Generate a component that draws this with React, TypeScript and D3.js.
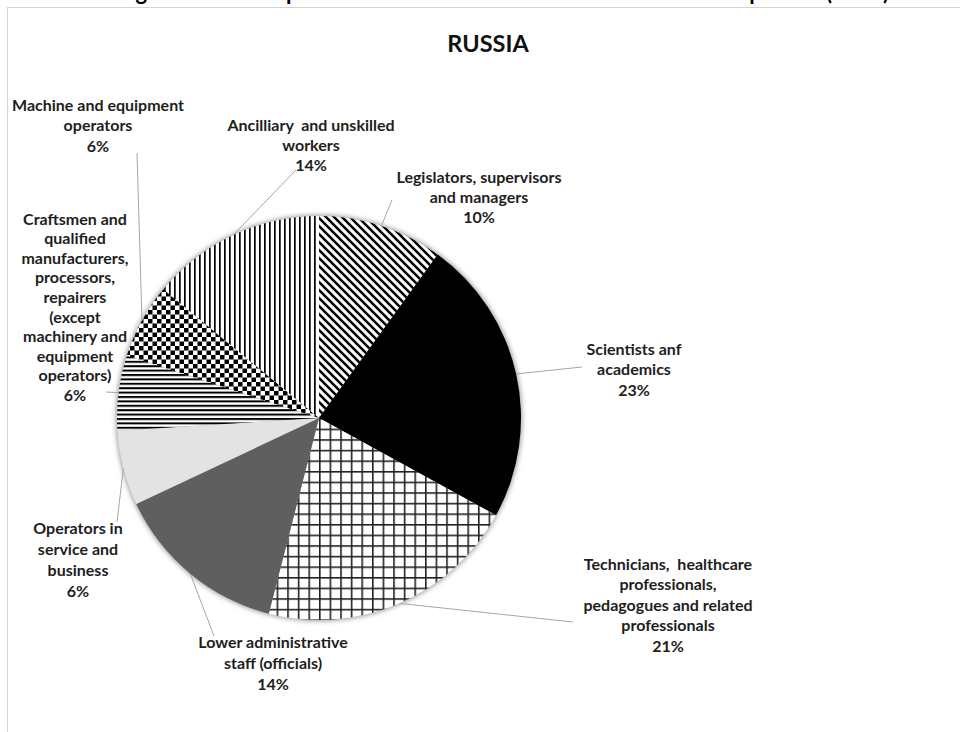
import React from "react";
import * as d3 from "d3";

// ---------- data ----------
const chartTitle = "RUSSIA";
const categories = [
  "Legislators, supervisors\nand managers",
  "Scientists anf\nacademics",
  "Technicians,  healthcare\nprofessionals,\npedagogues and related\nprofessionals",
  "Lower administrative\nstaff (officials)",
  "Operators in\nservice and\nbusiness",
  "Craftsmen and\nqualified\nmanufacturers,\nprocessors,\nrepairers\n(except\nmachinery and\nequipment\noperators)",
  "Machine and equipment\noperators",
  "Ancilliary  and unskilled\nworkers",
];
const values = [10, 23, 21, 14, 6, 6, 6, 14];
const fills = ["url(#pDiag)", "#000000", "url(#pGrid)", "#5f5f5f", "#e3e3e3", "url(#pHoriz)", "url(#pCheck)", "url(#pVert)"];

// ---------- layout (positions only) ----------
const W = 960;
const H = 732;
const cx = 319;
const cy = 418;
const R = 202;
const labelLayout = [
  { x: 479, y: 176, lh: 20.2, ax: 392, ay: 200 },
  { x: 634, y: 348, lh: 20.5, ax: 582, ay: 367 },
  { x: 668, y: 563, lh: 20.6, ax: 573, ay: 622 },
  { x: 273, y: 641, lh: 21, ax: 214, ay: 636 },
  { x: 78, y: 527, lh: 21, ax: 117, ay: 522 },
  { x: 75, y: 218, lh: 19.6, ax: 106, ay: 392 },
  { x: 98, y: 104, lh: 20.5, ax: 137, ay: 153 },
  { x: 311, y: 124, lh: 20, ax: 296, ay: 170 },
];

const FONT = "Lato, 'Open Sans', sans-serif";

export default function App() {
  const pie = d3.pie<number>().sort(null).value((d) => d)(values);
  const arc = d3.arc<d3.PieArcDatum<number>>().innerRadius(0).outerRadius(R);

  return (
    <svg
      width={W}
      height={H}
      viewBox={`0 0 ${W} ${H}`}
      style={{ position: "absolute", left: 0, top: 0, background: "#fff" }}
      fontFamily={FONT}
    >
      <defs>
        <pattern id="pDiag" width={8} height={8} patternUnits="userSpaceOnUse">
          <rect width={8} height={8} fill="#fff" />
          <path d="M-4,4 L4,12 M0,0 L8,8 M4,-4 L12,4" stroke="#000" strokeWidth={2.6} />
        </pattern>
        <pattern id="pVert" width={5} height={5} patternUnits="userSpaceOnUse">
          <rect width={5} height={5} fill="#fff" />
          <rect x={0} y={0} width={1.7} height={5} fill="#000" />
        </pattern>
        <pattern id="pHoriz" width={4.4} height={4.4} patternUnits="userSpaceOnUse">
          <rect width={4.4} height={4.4} fill="#fff" />
          <rect x={0} y={0} width={4.4} height={2} fill="#000" />
        </pattern>
        <pattern id="pCheck" width={9} height={9} patternUnits="userSpaceOnUse">
          <rect width={9} height={9} fill="#fff" />
          <rect x={0} y={0} width={4.5} height={4.5} fill="#000" />
          <rect x={4.5} y={4.5} width={4.5} height={4.5} fill="#000" />
        </pattern>
        <pattern id="pGrid" width={10.6} height={10.6} patternUnits="userSpaceOnUse">
          <rect width={10.6} height={10.6} fill="#fff" />
          <rect x={0} y={0} width={1.6} height={10.6} fill="#222" />
          <rect x={0} y={0} width={10.6} height={1.6} fill="#222" />
        </pattern>
        <filter id="soft" x="-20%" y="-20%" width="140%" height="140%">
          <feGaussianBlur stdDeviation={2.5} />
        </filter>
      </defs>

      <rect x={0} y={0} width={W} height={H} fill="#fff" />
      {/* clipped headline of the source page (only descenders visible) */}
      <text y={-0.5} fontSize={22} fontWeight={700} fill="#000" style={{ whiteSpace: "pre" }}>
        <tspan x={14}>Share of emigrants in</tspan>
        <tspan x={240}>occupational classes in Russia and</tspan>
        <tspan x={704}>Europe</tspan>
        <tspan x={826}>(2015)</tspan>
      </text>
      {/* chart frame */}
      <rect x={7.5} y={7.5} width={W} height={H} fill="#fff" stroke="#d4d4d4" strokeWidth={1} />

      <text x={488} y={43} textAnchor="middle" dominantBaseline="central" fontSize={23.5} fontWeight={700} fill="#111">
        {chartTitle}
      </text>

      <g transform={`translate(${cx},${cy})`}>
        <circle r={R + 1} fill="#9a9a9a" filter="url(#soft)" />
        {pie.map((p, i) => (
          <path key={i} d={arc(p) || ""} fill={fills[i]} />
        ))}
      </g>

      {pie.map((p, i) => {
        const a = (p.startAngle + p.endAngle) / 2;
        const sx = cx + Math.sin(a) * R;
        const sy = cy - Math.cos(a) * R;
        const L = labelLayout[i];
        return <line key={"l" + i} x1={sx} y1={sy} x2={L.ax} y2={L.ay} stroke="#a6a6a6" strokeWidth={1} />;
      })}

      {categories.map((c, i) => {
        const L = labelLayout[i];
        const lines = c.split("\n").concat([`${values[i]}%`]);
        return (
          <text
            key={"t" + i}
            textAnchor="middle"
            fontSize={16}
            fontWeight={700}
            fill="#1e1e1e"
            style={{ whiteSpace: "pre" }}
          >
            {lines.map((ln, j) => (
              <tspan key={j} x={L.x} y={L.y + j * L.lh} dominantBaseline="central">
                {ln}
              </tspan>
            ))}
          </text>
        );
      })}
    </svg>
  );
}
